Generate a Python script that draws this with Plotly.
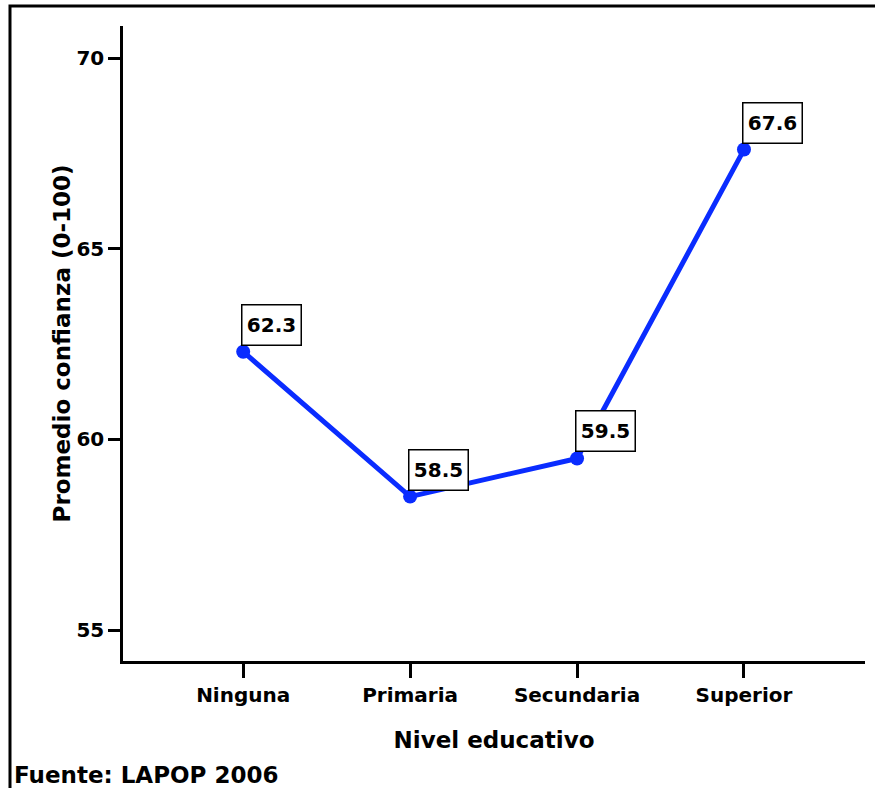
import plotly.graph_objects as go

niveles = ['Ninguna', 'Primaria', 'Secundaria', 'Superior']
promedio = [62.3, 58.5, 59.5, 67.6]
etiquetas = ['62.3', '58.5', '59.5', '67.6']
y_ticks = [55, 60, 65, 70]

font_fam = 'DejaVu Sans'

fig = go.Figure()
fig.add_trace(go.Scatter(x=niveles, y=promedio, mode='lines+markers',
                         line=dict(color='#0a2cff', width=5),
                         marker=dict(color='#0a2cff', size=14),
                         showlegend=False, hoverinfo='skip'))

for x, y, t in zip(niveles, promedio, etiquetas):
    fig.add_annotation(x=x, y=y, text=t, showarrow=False, xanchor='left', yanchor='bottom',
                       xshift=-2, yshift=6, width=50, height=31,
                       font=dict(family=font_fam, size=20, color='black', weight='bold'),
                       bgcolor='white', bordercolor='black', borderwidth=1.5, borderpad=4)

fig.update_layout(
    width=875, height=788,
    margin=dict(l=123, r=10, t=26, b=127),
    plot_bgcolor='white', paper_bgcolor='white',
    font=dict(family=font_fam, color='black'),
)
fig.update_xaxes(range=[-0.72, 3.725], showgrid=False, zeroline=False,
                 showline=True, linecolor='black', linewidth=2.5,
                 ticks='outside', ticklen=14, tickwidth=2.5, tickcolor='black',
                 tickfont=dict(size=20, weight='bold'),
                 title=dict(text='Nivel educativo', font=dict(size=23, weight='bold'), standoff=27))
fig.update_yaxes(range=[54.19, 70.84], showgrid=False, zeroline=False,
                 showline=True, linecolor='black', linewidth=2.5,
                 tickvals=y_ticks, ticks='outside', ticklen=12, tickwidth=2.5, tickcolor='black',
                 tickfont=dict(size=20, weight='bold'),
                 title=dict(text='Promedio confianza (0-100)', font=dict(size=23, weight='bold'), standoff=0))

fig.add_annotation(xref='paper', yref='paper', x=-0.1496, y=-0.1795, xanchor='left', yanchor='middle',
                   text='Fuente: LAPOP 2006', showarrow=False,
                   font=dict(size=23, weight='bold', color='black'))

# frame round the whole picture (runs past the right and bottom edges)
fig.add_shape(type='rect', xref='paper', yref='paper', x0=-0.1523, x1=1.2, y0=-0.5, y1=1.0315,
              line=dict(color='black', width=3), fillcolor='rgba(0,0,0,0)', layer='above')

fig.write_html('out.html', config={'displayModeBar': False},
               post_script="document.body.style.margin='0';")
